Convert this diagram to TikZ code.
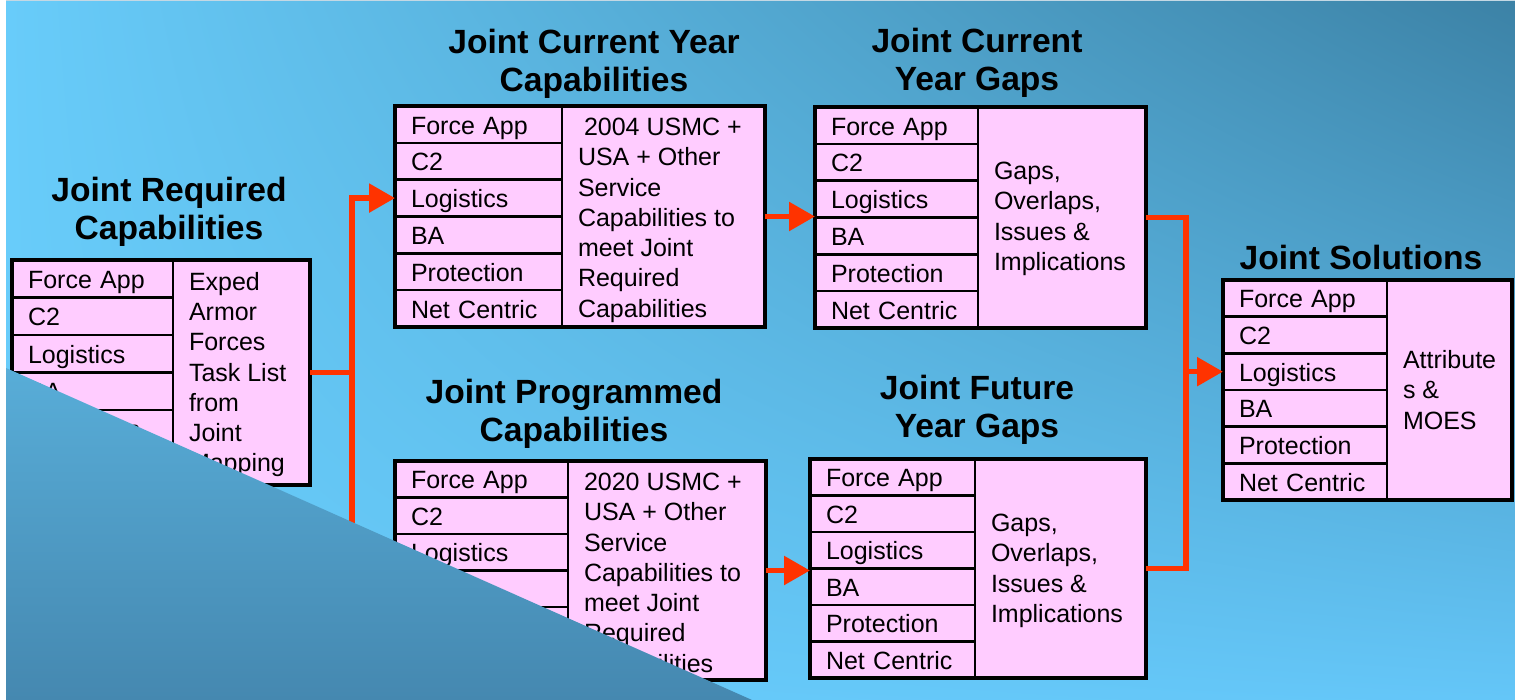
\documentclass[tikz,border=0pt]{standalone}
\usepackage{fontspec}
\setmainfont{Liberation Sans}
\usetikzlibrary{arrows.meta,shadings}

\definecolor{cellpink}{HTML}{FFCCFF}
\definecolor{linkred}{HTML}{FF3300}
\definecolor{bglight}{HTML}{68CCFA}
\definecolor{bgdark}{HTML}{3C82A6}
\definecolor{bglow}{HTML}{64C6F8}
\definecolor{stripcol}{HTML}{C4D8E4}
\definecolor{ovtop}{HTML}{58ADD8}
\definecolor{ovbot}{HTML}{4588B0}

\begin{document}
\begin{tikzpicture}[x=0.5pt,y=-0.5pt]
      \tikzstyle{frame}=[rectangle,fill=cellpink,inner sep=0pt,outer sep=0pt,anchor=north west]
      \tikzstyle{border}=[draw=black,line width=2.3pt]
      \tikzstyle{cell}=[rectangle,draw=black,line width=1.2pt,fill=cellpink,inner xsep=8pt,inner ysep=0pt,outer sep=0pt,anchor=north west,align=left,text height=12.2pt,text depth=2.6pt,font=\fontsize{12.5}{15.1}\selectfont]
      \tikzstyle{note}=[inner xsep=8pt,inner ysep=6pt,outer sep=0pt,align=left,font=\fontsize{12.5}{15.15}\selectfont]
      \tikzstyle{boxtitle}=[anchor=north,inner sep=0pt,align=center,font=\bfseries\fontsize{16.8}{19}\selectfont]
      \tikzstyle{link}=[draw=linkred,line width=2.8pt]
      \tikzstyle{flow}=[link,-{Triangle[length=13pt,width=14pt]}]

      \useasboundingbox (0,0) rectangle (1515,700);
      \fill[white] (0,0) rectangle (1515,700);
      \fill[stripcol] (6,0) rectangle (1515,2);
      \shade[upper left=bglight,upper right=bgdark,lower left=bglight,lower right=bglow] (6,2) rectangle (1515,700);

      % required capabilities
      \begin{scope}[shift={(12,260)},cell/.append style={text width=64.5pt,minimum height=18.75pt}]
        \node[boxtitle] (jrc-title) at (157,-83) {Joint Required\\Capabilities};
        \node[frame,minimum width=149pt,minimum height=112.5pt] (jrc) at (0,0) {};
        \foreach \lbl [count=\i] in {Force App,C2,Logistics,BA,Protection,Net Centric}
          \node[cell] (jrc-\i) at (0,{(\i-1)*37.5}) {\lbl};
        \node[note,anchor=north west] (jrc-note) at (161,0) {Exped\\Armor\\Forces\\Task List\\from\\Joint\\Mapping};
        \draw[border] (jrc.north west) rectangle (jrc.south east);
      \end{scope}

      % current year capabilities
      \begin{scope}[shift={(395,106)},cell/.append style={text width=67.5pt,minimum height=18.42pt}]
        \node[boxtitle] (jcy-title) at (199,-77) {Joint Current Year\\Capabilities};
        \node[frame,minimum width=185pt,minimum height=110.5pt] (jcy) at (0,0) {};
        \foreach \lbl [count=\i] in {Force App,C2,Logistics,BA,Protection,Net Centric}
          \node[cell] (jcy-\i) at (0,{(\i-1)*36.83}) {\lbl};
        \node[note,anchor=north west] (jcy-note) at (167,0) {\hspace*{3pt}2004 USMC +\\USA + Other\\Service\\Capabilities to\\meet Joint\\Required\\Capabilities};
        \draw[border] (jcy.north west) rectangle (jcy.south east);
      \end{scope}

      % current year gaps
      \begin{scope}[shift={(815,107)},cell/.append style={text width=65.5pt,minimum height=18.42pt}]
        \node[boxtitle] (jcg-title) at (162,-79) {Joint Current\\Year Gaps};
        \node[frame,minimum width=165.5pt,minimum height=110.5pt] (jcg) at (0,0) {};
        \foreach \lbl [count=\i] in {Force App,C2,Logistics,BA,Protection,Net Centric}
          \node[cell] (jcg-\i) at (0,{(\i-1)*36.83}) {\lbl};
        \node[note,anchor=west] (jcg-note) at (163,112) {Gaps,\\Overlaps,\\Issues \&\\Implications};
        \draw[border] (jcg.north west) rectangle (jcg.south east);
      \end{scope}

      % programmed capabilities
      \begin{scope}[shift={(395,461)},cell/.append style={text width=70.5pt,minimum height=18.25pt}]
        \node[boxtitle] (jpc-title) at (179,-82) {Joint Programmed\\Capabilities};
        \node[frame,minimum width=185.5pt,minimum height=109.5pt] (jpc) at (0,0) {};
        \foreach \lbl [count=\i] in {Force App,C2,Logistics,BA,Protection,Net Centric}
          \node[cell] (jpc-\i) at (0,{(\i-1)*36.5}) {\lbl};
        \node[note,anchor=north west] (jpc-note) at (173,0) {2020 USMC +\\USA + Other\\Service\\Capabilities to\\meet Joint\\Required\\Capabilities};
        \draw[border] (jpc.north west) rectangle (jpc.south east);
      \end{scope}

      % future year gaps
      \begin{scope}[shift={(810,459)},cell/.append style={text width=66.5pt,minimum height=18.25pt}]
        \node[boxtitle] (jfg-title) at (167,-84) {Joint Future\\Year Gaps};
        \node[frame,minimum width=168pt,minimum height=109.5pt] (jfg) at (0,0) {};
        \foreach \lbl [count=\i] in {Force App,C2,Logistics,BA,Protection,Net Centric}
          \node[cell] (jfg-\i) at (0,{(\i-1)*36.5}) {\lbl};
        \node[note,anchor=west] (jfg-note) at (165,112) {Gaps,\\Overlaps,\\Issues \&\\Implications};
        \draw[border] (jfg.north west) rectangle (jfg.south east);
      \end{scope}

      % solutions
      \begin{scope}[shift={(1223,280)},cell/.append style={text width=66pt,minimum height=18.33pt}]
        \node[boxtitle] (js-title) at (138,-35) {Joint Solutions};
        \node[frame,minimum width=144.5pt,minimum height=110pt] (js) at (0,0) {};
        \foreach \lbl [count=\i] in {Force App,C2,Logistics,BA,Protection,Net Centric}
          \node[cell] (js-\i) at (0,{(\i-1)*36.67}) {\lbl};
        \node[note,anchor=west] (js-note) at (164,110) {Attribute\\s \&\\MOES};
        \draw[border] (js.north west) rectangle (js.south east);
      \end{scope}

      % connectors
      \draw[link] (jrc.east) -- ++(42,0) coordinate (fork);
      \draw[flow] (fork) |- (jcy-3.west);
      \draw[flow] (fork) |- (jpc-3.west);
      \draw[flow] (jcy.east) -- (jcy.east -| jcg.west);
      \draw[flow] (jpc.east) -- (jpc.east -| jfg.west);
      \draw[link] (jcg.east) -- ++(40,0) coordinate (merge) |- (jfg.east);
      \draw[flow] (merge |- js-3.west) -- (js-3.west);

      % slide overlay
      \shade[top color=ovtop,bottom color=ovbot] (6,368) -- (752,700) -- (6,700) -- cycle;
\end{tikzpicture}
\end{document}
